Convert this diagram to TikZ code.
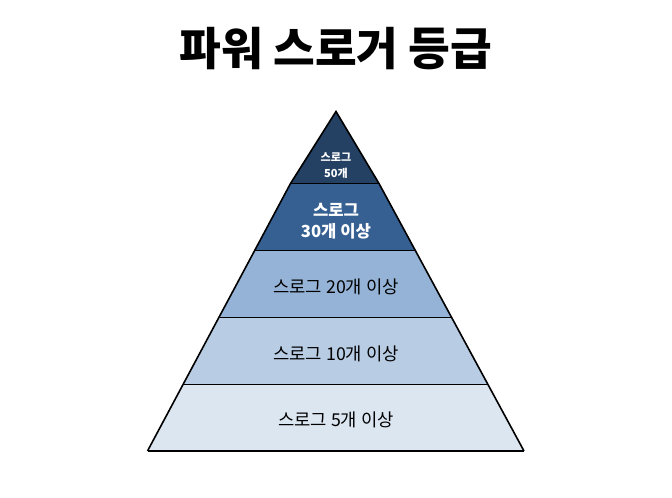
\documentclass[tikz,border=0pt]{standalone}
\usepackage{fontspec}
\setmainfont{Noto Sans CJK KR}
\definecolor{lvA}{HTML}{244062}
\definecolor{lvB}{HTML}{366092}
\definecolor{lvC}{HTML}{95B3D7}
\definecolor{lvD}{HTML}{B8CCE4}
\definecolor{lvE}{HTML}{DCE6F1}
\tikzset{
  band/.style={draw=black, line width=1.2pt, line join=miter},
  darklabel/.style={text=black, font=\fontsize{13.3}{16}\selectfont, align=center, inner sep=0pt},
  lightlabel/.style={text=white, font=\bfseries\fontsize{12.5}{16}\selectfont, align=center, inner sep=0pt},
  toplabel/.style={text=white, font=\bfseries\fontsize{8.3}{12}\selectfont, align=center, inner sep=0pt}
}
\begin{document}
\begin{tikzpicture}[x=0.75pt,y=-0.75pt]
\useasboundingbox (0,0) rectangle (672,498);
% bands (bottom to top)
\fill[lvE] (147.5,451) -- (183.5,384.5) -- (488,384.5) -- (524,451) -- cycle;
\fill[lvD] (183.5,384.5) -- (219.5,317.5) -- (452,317.5) -- (488,384.5) -- cycle;
\fill[lvC] (219.5,317.5) -- (255,250.5) -- (415.5,250.5) -- (452,317.5) -- cycle;
\fill[lvB] (255,250.5) -- (290.5,183.5) -- (379,183.5) -- (415.5,250.5) -- cycle;
\fill[lvA] (290.5,183.5) -- (336,111.5) -- (379,183.5) -- cycle;
% outlines
\draw[band] (147.5,451) -- (524,451);
\draw[band] (183.5,384.5) -- (488,384.5);
\draw[band] (219.5,317.5) -- (452,317.5);
\draw[band] (255,250.5) -- (415.5,250.5);
\draw[band] (290.5,183.5) -- (379,183.5);
\draw[band] (147.5,451) -- (290.5,183.5) -- (336,111.5) -- (379,183.5) -- (524,451);
% title
\node[font=\bfseries\fontsize{34}{40}\selectfont, inner sep=0pt] (title) at (336,49) {파워 스로거 등급};
% labels
\node[toplabel] (l50) at (336,166) {스로그\\50개};
\node[lightlabel] (l30) at (336,221) {스로그\\30개 이상};
\node[darklabel] (l20) at (336,287) {스로그 20개 이상};
\node[darklabel] (l10) at (336,354) {스로그 10개 이상};
\node[darklabel] (l5) at (336,420) {스로그 5개 이상};
\end{tikzpicture}
\end{document}
